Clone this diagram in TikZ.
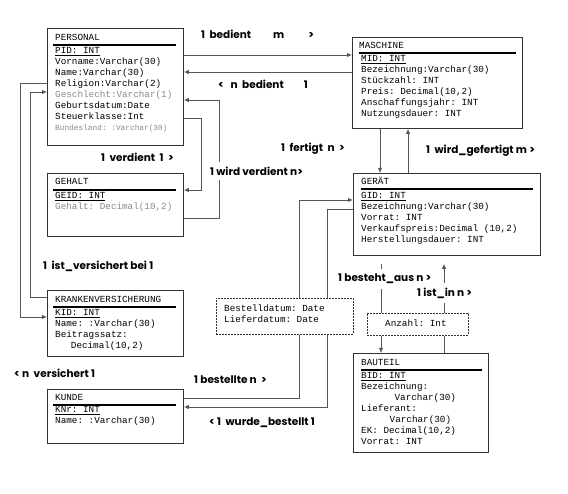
\documentclass[tikz,border=0pt]{standalone}
\usepackage{fontspec}
\setmonofont{Liberation Mono}
\newfontfamily\lblfont{Poppins}
\usetikzlibrary{arrows.meta}
\definecolor{boxc}{HTML}{333333}
\definecolor{linec}{HTML}{555555}
\definecolor{graytxt}{HTML}{8A8A8A}
\tikzset{
  ent/.style={draw=boxc, line width=0.9pt, anchor=north west, inner sep=0pt, fill=white},
  relbox/.style={draw=boxc, dash pattern=on 2pt off 1pt, line width=0.8pt, anchor=north west, inner sep=0pt, fill=white},
  attr/.style={font=\ttfamily\fontsize{9.3}{11}\selectfont, anchor=base west, align=left, inner sep=0pt},
  attrs/.style={attr, anchor=north west},
  lbl/.style={font=\lblfont\bfseries\fontsize{10.5}{12}\selectfont, inner sep=1pt},
  lblw/.style={lbl, fill=white, inner ysep=5pt},
  conn/.style={draw=linec, line width=0.9pt},
  arr/.style={-{Latex[length=5pt,width=4.5pt]}},
  hrule/.style={line width=1.4pt, draw=black}
}
\newcommand{\gt}[1]{\textcolor{graytxt}{#1}}
\begin{document}
\begin{tikzpicture}[x=1pt,y=-1pt]
\useasboundingbox (0,0) rectangle (568,494);
% ---------- entity boxes ----------
\node[ent, minimum width=136pt, minimum height=117pt] (pers) at (47,28) {};
\node[ent, minimum width=136pt, minimum height=63pt]  (geh)  at (47,173) {};
\node[ent, minimum width=136pt, minimum height=66pt]  (kv)   at (47,290) {};
\node[ent, minimum width=136pt, minimum height=54pt]  (kunde) at (47,389) {};
\node[ent, minimum width=170pt, minimum height=91pt]  (masch) at (352,37) {};
\node[ent, minimum width=187pt, minimum height=82pt]  (ger)  at (353,173) {};
\node[ent, minimum width=135pt, minimum height=99pt]  (baut) at (353,353) {};
\node[relbox, minimum width=137pt, minimum height=36pt] (best) at (216,298) {};
\node[relbox, minimum width=101pt, minimum height=22pt] (anz) at (367,313) {};
% ---------- titles and rules ----------
\node[attr] (tpers) at (55,41) {PERSONAL};
\draw[hrule] (53,45) -- (176,45);
\node[attr] (tgeh) at (55,185) {GEHALT};
\draw[hrule] (53,190) -- (176,190);
\node[attr] (tkv) at (55,303) {KRANKENVERSICHERUNG};
\draw[hrule] (53,307) -- (176,307);
\node[attr] (tkunde) at (55,401) {KUNDE};
\draw[hrule] (53,405) -- (176,405);
\node[attr] (tmasch) at (359,49) {MASCHINE};
\draw[hrule] (359,53) -- (516,53);
\node[attr] (tger) at (361,185) {GERÄT};
\draw[hrule] (361,189) -- (533,189);
\node[attr] (tbaut) at (361,366) {BAUTEIL};
\draw[hrule] (361,370) -- (482,370);
% ---------- attributes ----------
\node[attrs] (apers) at (55,47) {\underline{PID: INT}\\Vorname:Varchar(30)\\Name:Varchar(30)\\Religion:Varchar(2)\\\gt{Geschlecht:Varchar(1)}\\Geburtsdatum:Date\\Steuerklasse:Int\\{\fontsize{7.8}{11}\selectfont\gt{Bundesland: :Varchar(30)}}};
\node[attrs] (ageh) at (55,192) {\underline{GEID: INT}\\\gt{Gehalt: Decimal(10,2)}};
\node[attrs] (akv) at (55,309) {\underline{KID: INT}\\Name: :Varchar(30)\\Beitragssatz:\\\hspace*{3.2ex}Decimal(10,2)};
\node[attrs] (akunde) at (55,406) {\underline{KNr: INT}\\Name: :Varchar(30)};
\node[attrs] (amasch) at (361,55) {\underline{MID: INT}\\Bezeichnung:Varchar(30)\\Stückzahl: INT\\Preis: Decimal(10,2)\\Anschaffungsjahr: INT\\Nutzungsdauer: INT};
\node[attrs] (ager) at (361,192) {\underline{GID: INT}\\Bezeichnung:Varchar(30)\\Vorrat: INT\\Verkaufspreis:Decimal (10,2)\\Herstellungsdauer: INT};
\node[attrs] (abaut) at (361,372) {\underline{BID: INT}\\Bezeichnung:\\\hspace*{6.8ex}Varchar(30)\\Lieferant:\\\hspace*{5.8ex}Varchar(30)\\EK: Decimal(10,2)\\Vorrat: INT};
\node[attrs] (abest) at (224,305) {Bestelldatum: Date\\Lieferdatum: Date};
\node[attr] (aanz) at (385,327) {Anzahl: Int};
% ---------- connectors ----------
\draw[conn,arr] (pers.east |- 0,55) -- (masch.west |- 0,55);
\draw[conn,arr] (masch.west |- 0,72) -- (pers.east |- 0,72);
\draw[conn,arr] (pers.east |- 0,118) -- (201,118) -- (201,190) -- (geh.east |- 0,190);
\draw[conn,arr] (geh.east |- 0,218) -- (219,218) -- (219,100) -- (pers.east |- 0,100);
\draw[conn,arr] (pers.west |- 0,83) -- (20,83) -- (20,317) -- (kv.west |- 0,317);
\draw[conn,arr] (kv.west |- 0,297) -- (30,297) -- (30,92) -- (pers.west |- 0,92);
\draw[conn,arr] (masch.south -| 380,0) -- (ger.north -| 380,0);
\draw[conn,arr] (ger.north -| 408,0) -- (masch.south -| 408,0);
\draw[conn,arr] (best.north -| 299,0) -- (299,200) -- (ger.west |- 0,200);
\draw[conn] (best.north -| 327,0) -- (327,209) -- (ger.west |- 0,209);
\draw[conn] (best.south -| 299,0) -- (299,398) -- (kunde.east |- 0,398);
\draw[conn,arr] (best.south -| 327,0) -- (327,407) -- (kunde.east |- 0,407);
\draw[conn,shorten <=8pt] (ger.south -| 381,0) -- (anz.north -| 381,0);
\draw[conn,arr] (anz.south -| 381,0) -- (baut.north -| 381,0);
\draw[conn,arr,shorten >=8pt] (anz.north -| 444,0) -- (ger.south -| 444,0);
\draw[conn] (anz.south -| 444,0) -- (baut.north -| 444,0);
% ---------- labels ----------
\node[lbl, anchor=west] (l1) at (200,34) {1\ \ bedient\hspace{22pt}m\hspace{24pt}>};
\node[lbl, anchor=west] (l2) at (217,84) {<\ \ \ n\ \ bedient\hspace{20pt}1};
\node[lbl, anchor=west] (l3) at (100,157) {1\ \ verdient\ \ 1\ \ >};
\node[lblw, anchor=west] (l4) at (209,171) {1 wird verdient n>};
\node[lbl, anchor=west] (l5) at (280,149) {1\ \ fertigt\ \ n\ \ >};
\node[lbl, anchor=west] (l6) at (425,151) {1\ \ wird\_gefertigt m >};
\node[lbl, anchor=west] (l7) at (42,266) {1\ \ ist\_versichert bei 1};
\node[lbl, anchor=west] (l8) at (13,373) {<\ n\ \ versichert 1};
\node[lbl, anchor=west] (l9) at (193,380) {1 bestellte n\ \ >};
\node[lbl, anchor=west] (l10) at (208,423) {<\ 1\ \ wurde\_bestellt 1};
\node[lblw, anchor=west] (l11) at (337,279) {1 besteht\_aus n >};
\node[lblw, anchor=west] (l12) at (416,293) {1 ist\_in n >};
\end{tikzpicture}
\end{document}
